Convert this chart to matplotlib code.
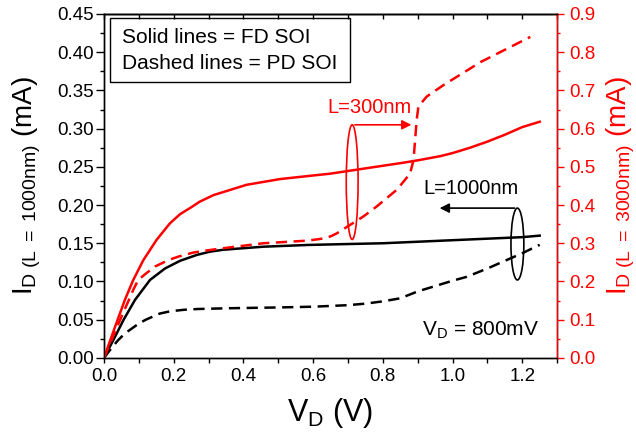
import matplotlib
matplotlib.use("Agg")
import matplotlib.pyplot as plt
from matplotlib.patches import Ellipse, Rectangle
from matplotlib.ticker import MultipleLocator

plt.rcParams['font.family'] = ['Liberation Sans', 'DejaVu Sans']
plt.rcParams['mathtext.fontset'] = 'custom'
plt.rcParams['mathtext.rm'] = 'Liberation Sans'
plt.rcParams['mathtext.it'] = 'Liberation Sans'

# L = 1000nm (left axis)
x_fd_1000 = [0, 0.027, 0.056, 0.089, 0.132, 0.175, 0.218, 0.266, 0.304, 0.342, 0.457, 0.586, 0.7, 0.8, 0.9, 1.0, 1.1, 1.2, 1.25]
i_fd_1000 = [0, 0.0235, 0.0497, 0.0759, 0.102, 0.117, 0.127, 0.1347, 0.139, 0.1415, 0.1455, 0.1478, 0.149, 0.150, 0.152, 0.154, 0.156, 0.158, 0.16]
x_pd_1000 = [0, 0.02, 0.04, 0.06, 0.1, 0.12, 0.16, 0.19, 0.23, 0.27, 0.36, 0.5, 0.6, 0.7, 0.75, 0.8, 0.85, 0.9, 1.0, 1.04, 1.1, 1.2, 1.25]
i_pd_1000 = [0, 0.012, 0.023, 0.032, 0.045, 0.05, 0.058, 0.061, 0.063, 0.064, 0.065, 0.066, 0.067, 0.069, 0.071, 0.074, 0.078, 0.087, 0.101, 0.106, 0.117, 0.137, 0.148]

# L = 300nm (right axis)
x_fd_300 = [0, 0.032, 0.06, 0.084, 0.113, 0.151, 0.189, 0.218, 0.25, 0.275, 0.314, 0.409, 0.505, 0.586, 0.648, 0.75, 0.853, 0.9, 0.965, 1.0, 1.05, 1.1, 1.15, 1.2, 1.25]
i_fd_300 = [0, 0.082, 0.152, 0.204, 0.256, 0.309, 0.352, 0.376, 0.394, 0.409, 0.426, 0.453, 0.468, 0.476, 0.482, 0.496, 0.51, 0.517, 0.528, 0.536, 0.55, 0.566, 0.584, 0.604, 0.618]
x_pd_300 = [0, 0.046, 0.084, 0.098, 0.122, 0.146, 0.185, 0.213, 0.256, 0.285, 0.342, 0.457, 0.586, 0.625, 0.65, 0.668, 0.744, 0.782, 0.84, 0.878, 0.888, 0.897, 0.902, 0.926, 0.974, 1.08, 1.223]
i_pd_300 = [0, 0.099, 0.178, 0.204, 0.222, 0.239, 0.256, 0.265, 0.2756, 0.28, 0.287, 0.300, 0.307, 0.312, 0.318, 0.326, 0.37, 0.396, 0.44, 0.482, 0.518, 0.622, 0.658, 0.684, 0.714, 0.774, 0.84]

fig = plt.figure(figsize=(6.36, 4.37), dpi=100)
ax = fig.add_axes([0.1635, 0.181, 0.7125, 0.787])
ax2 = ax.twinx()

dash = (0, (4.5, 2.6))
ax.plot(x_fd_1000, i_fd_1000, color='black', lw=1.8)
ax.plot(x_pd_1000, i_pd_1000, color='black', lw=1.8, linestyle=dash)
ax2.plot(x_fd_300, i_fd_300, color='red', lw=1.8)
ax2.plot(x_pd_300, i_pd_300, color='red', lw=1.8, linestyle=dash)

ax.set_xlim(0, 1.3)
ax.set_ylim(0, 0.45)
ax2.set_ylim(0, 0.9)

ax.xaxis.set_major_locator(MultipleLocator(0.2))
ax.xaxis.set_minor_locator(MultipleLocator(0.1))
ax.yaxis.set_major_locator(MultipleLocator(0.05))
ax.yaxis.set_minor_locator(MultipleLocator(0.025))
ax2.yaxis.set_major_locator(MultipleLocator(0.1))
ax2.yaxis.set_minor_locator(MultipleLocator(0.05))
ax.xaxis.set_major_formatter(plt.FormatStrFormatter('%.1f'))
ax.yaxis.set_major_formatter(plt.FormatStrFormatter('%.2f'))
ax2.yaxis.set_major_formatter(plt.FormatStrFormatter('%.1f'))

ax.tick_params(axis='y', which='major', labelsize=13.5, length=5.5, width=1, pad=2)
ax.tick_params(axis='y', which='minor', length=3, width=1)
ax.tick_params(axis='x', which='both', labelsize=13.5, length=3.6, width=1, pad=4, direction='out')
ax2.tick_params(axis='y', which='major', labelsize=13.5, length=5, width=1, pad=3.5, colors='red')
ax2.tick_params(axis='y', which='minor', length=2.5, width=1, colors='red')

# inward ticks on top spine
top = ax.secondary_xaxis('top')
top.xaxis.set_major_locator(MultipleLocator(0.1))
top.tick_params(axis='x', which='both', direction='in', length=3.6, width=1, labeltop=False)

for a in (ax, ax2):
    for s in a.spines.values():
        s.set_linewidth(1)
ax2.spines['right'].set_color('red')
top.spines['top'].set_linewidth(1)

ax.set_xlabel(r'V$_\mathrm{D}$ (V)', fontsize=22)
ax.xaxis.set_label_coords(0.5, -0.11, transform=ax.transAxes)
ax.xaxis.label.set_va('top')
ax.set_ylabel(r'I$_\mathrm{D\ (L\ =\ 1000nm)}$ (mA)', fontsize=20)
ax.yaxis.set_label_coords(-0.135, 0.5)
ax2.set_ylabel(r'I$_\mathrm{D\ (L\ =\ 3000nm)}$ (mA)', fontsize=20, color='red')
ax2.yaxis.set_label_coords(1.105, 0.5)

# legend box
ax.add_patch(Rectangle((0.013, 0.802), 0.53, 0.186, transform=ax.transAxes,
                       fill=False, edgecolor='black', lw=1, zorder=5))
ax.text(0.04, 0.933, 'Solid lines = FD SOI', transform=ax.transAxes, fontsize=15, va='center')
ax.text(0.04, 0.855, 'Dashed lines = PD SOI', transform=ax.transAxes, fontsize=15, va='center')

# annotations
ax.add_patch(Ellipse((0.712, 0.230), 0.034, 0.150, fill=False, edgecolor='red', lw=1.2))
ax.annotate('', xy=(0.89, 0.305), xytext=(0.712, 0.305),
            arrowprops=dict(arrowstyle='-|>', color='red', lw=1.2, mutation_scale=14))
ax.text(0.761, 0.327, 'L=300nm', color='red', fontsize=14.5, ha='center', va='center')

ax.add_patch(Ellipse((1.186, 0.149), 0.037, 0.094, fill=False, edgecolor='black', lw=1.2))
ax.annotate('', xy=(0.955, 0.196), xytext=(1.186, 0.196),
            arrowprops=dict(arrowstyle='-|>', color='black', lw=1.2, mutation_scale=14))
ax.text(1.054, 0.222, 'L=1000nm', color='black', fontsize=14.5, ha='center', va='center')

ax.text(1.08, 0.036, r'V$_\mathrm{D}$ = 800mV', fontsize=15, ha='center', va='center')

fig.savefig('out.png', dpi=100)
